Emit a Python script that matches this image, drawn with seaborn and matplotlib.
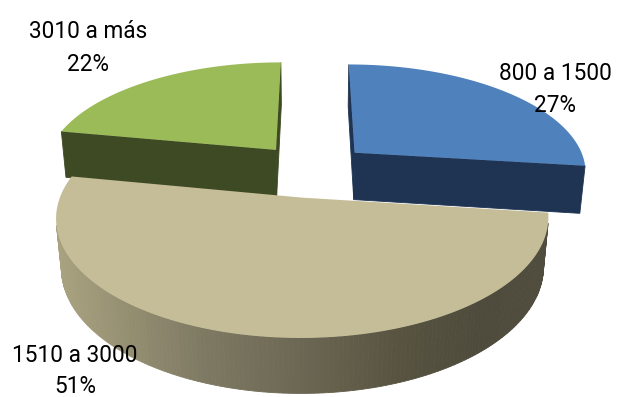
import numpy as np
import matplotlib
matplotlib.use("Agg")
import matplotlib.pyplot as plt
import seaborn as sns

# ---- data ----
categories = ["800 a 1500", "1510 a 3000", "3010 a más"]
shares = [27, 51, 22]
percent_labels = ["27%", "51%", "22%"]
top_colors = ["#4F81BD", "#C4BD97", "#9BBB59"]
side_colors = ["#1F3452", "#C4BD97", "#3E4A24"]

sns.set_theme(style="white")
plt.rcParams["font.family"] = ["Roboto", "DejaVu Sans"]

W, H = 617, 397
fig = plt.figure(figsize=(W / 100, H / 100), dpi=100)
ax = fig.add_axes([0, 0, 1, 1])
ax.set_xlim(0, W)
ax.set_ylim(H, 0)
ax.axis("off")

# ---- 3D perspective pie settings ----
PHI = np.radians(27.5)
CAM_D = 5.5
FOCAL = 1281.5
CX, CY = 312.0, 170.0
THICK = 0.236
EXPLODE = 0.25
cphi, sphi = np.cos(PHI), np.sin(PHI)
cam = np.array([0.0, -CAM_D * cphi, CAM_D * sphi])


def proj(x, y, z):
    x = np.asarray(x, float)
    y = np.asarray(y, float)
    z = np.asarray(z, float)
    depth = CAM_D + y * cphi - z * sphi
    up = y * sphi + z * cphi
    return CX + FOCAL * x / depth, CY - FOCAL * up / depth


def visible(normal, point):
    return np.dot(normal, cam - point) > 0


shade_x = [57, 200, 300, 400, 480, 550]
shade_rgb = np.array([(170, 163, 128), (127, 122, 99), (108, 103, 83),
                      (87, 83, 64), (78, 75, 60), (80, 77, 62)]) / 255.0


def wall_color(k, sx):
    if k == 1:
        return tuple(np.interp(sx, shade_x, shade_rgb[:, j]) for j in range(3))
    return side_colors[k]


fracs = np.array(shares, float) / sum(shares)
bounds = np.concatenate([[0], np.cumsum(fracs)]) * 2 * np.pi
draw_order = [2, 0, 1]

for k in draw_order:
    t0, t1 = bounds[k], bounds[k + 1]
    tm = (t0 + t1) / 2
    ox, oy = EXPLODE * np.sin(tm), EXPLODE * np.cos(tm)
    n = max(4, int(np.degrees(t1 - t0)))
    th = np.linspace(t0, t1, n + 1)
    rx = ox + np.sin(th)
    ry = oy + np.cos(th)
    # radial faces
    for tt, nrm in [(t0, (-np.cos(t0), np.sin(t0), 0.0)),
                    (t1, (np.cos(t1), -np.sin(t1), 0.0))]:
        px, py = ox + np.sin(tt), oy + np.cos(tt)
        mid = np.array([(ox + px) / 2, (oy + py) / 2, -THICK / 2])
        if visible(np.array(nrm), mid):
            xs, ys = proj([ox, px, px, ox], [oy, py, py, oy],
                          [0, 0, -THICK, -THICK])
            ax.fill(xs, ys, color=side_colors[k], lw=0.6, ec=side_colors[k])
    # outer wall
    for i in range(n):
        m = (th[i] + th[i + 1]) / 2
        nrm = np.array([np.sin(m), np.cos(m), 0.0])
        p = np.array([ox + np.sin(m), oy + np.cos(m), -THICK / 2])
        if not visible(nrm, p):
            continue
        xs, ys = proj([rx[i], rx[i + 1], rx[i + 1], rx[i]],
                      [ry[i], ry[i + 1], ry[i + 1], ry[i]],
                      [0, 0, -THICK, -THICK])
        col = wall_color(k, xs.mean())
        ax.fill(xs, ys, color=col, lw=0.6, ec=col)
    # top surface
    xs, ys = proj(np.r_[ox, rx], np.r_[oy, ry], np.zeros(n + 2))
    ax.fill(xs, ys, color=top_colors[k], lw=0)

# ---- labels ----
label_x = [555, 75, 88]
label_y1 = [80, 362, 38]
label_y2 = [112, 393, 71]
for k in range(len(categories)):
    ax.text(label_x[k], label_y1[k], categories[k], ha="center", va="baseline",
            fontsize=16.3, color="black")
    ax.text(label_x[k], label_y2[k], percent_labels[k], ha="center", va="baseline",
            fontsize=16.3, color="black")

fig.savefig("out.png", dpi=100)
